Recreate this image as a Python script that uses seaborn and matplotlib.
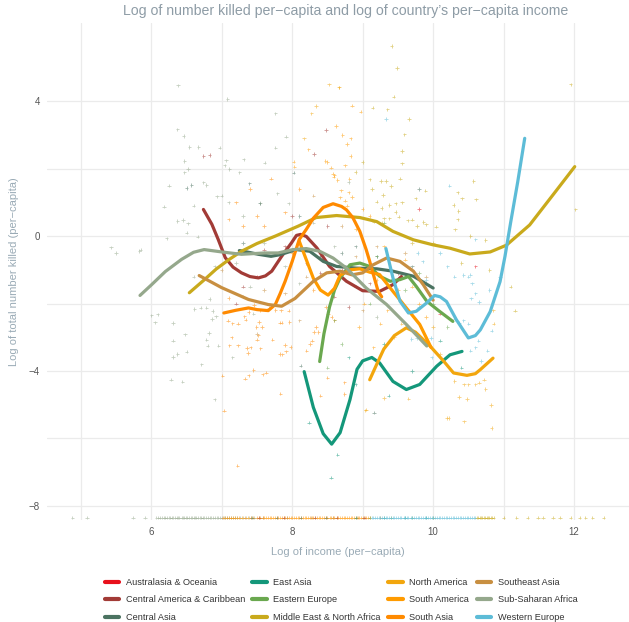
import matplotlib
matplotlib.use("Agg")
import matplotlib.pyplot as plt
from matplotlib.lines import Line2D
import seaborn as sns
import pandas as pd

# ---------------- data ----------------
REGIONS = ["Australasia & Oceania", "Central America & Caribbean", "Central Asia",
           "East Asia", "Eastern Europe", "Middle East & North Africa",
           "North America", "South America", "South Asia",
           "Southeast Asia", "Sub-Saharan Africa", "Western Europe"]
COLORS = ["#e8101b", "#a23b36", "#4b7361", "#14977a", "#6aa84f", "#c9aa1c",
          "#f2a60d", "#ff9b00", "#ff8a00", "#c88f41", "#95a88c", "#5dbcd7"]

# smoothed trend curves (log income, log killed per-capita)
CAC_X = [6.74, 6.86, 6.95, 7.05, 7.16, 7.28, 7.40, 7.52, 7.62, 7.71, 7.85, 7.99, 8.06, 8.12, 8.20, 8.35, 8.53, 8.77, 9.00, 9.24, 9.43, 9.55]
CAC_Y = [0.79, 0.35, -0.10, -0.64, -0.92, -1.09, -1.20, -1.24, -1.18, -1.04, -0.60, -0.20, 0.02, 0.05, -0.01, -0.35, -0.90, -1.34, -1.62, -1.64, -1.44, -1.20]
CA_X = [7.25, 7.31, 7.52, 7.70, 7.83, 8.06, 8.25, 8.44, 8.63, 8.91, 9.20, 9.43, 9.72, 10.00]
CA_Y = [-0.43, -0.45, -0.54, -0.60, -0.55, -0.40, -0.45, -0.75, -0.90, -0.95, -0.97, -1.04, -1.19, -1.54]
EA_X = [8.17, 8.30, 8.44, 8.56, 8.68, 8.82, 8.92, 9.00, 9.13, 9.24, 9.34, 9.43, 9.62, 9.81, 10.05, 10.24, 10.41]
EA_Y = [-4.02, -5.08, -5.86, -6.17, -5.83, -4.85, -3.95, -3.70, -3.60, -3.76, -4.05, -4.31, -4.55, -4.40, -3.86, -3.52, -3.42]
EE_X = [8.39, 8.45, 8.53, 8.60, 8.68, 8.82, 8.96, 9.10, 9.24, 9.39, 9.53, 9.65, 9.76, 9.91, 10.09, 10.28]
EE_Y = [-3.72, -2.90, -2.10, -1.60, -1.24, -0.85, -0.80, -0.90, -1.19, -1.34, -1.29, -1.20, -1.49, -1.93, -2.23, -2.53]
ME_X = [6.54, 6.75, 6.92, 7.10, 7.28, 7.50, 7.76, 8.09, 8.34, 8.63, 8.96, 9.20, 9.43, 9.72, 10.00, 10.24, 10.52, 10.81, 11.04, 11.37, 11.70, 12.01]
ME_Y = [-1.68, -1.30, -0.98, -0.70, -0.45, -0.22, 0.00, 0.30, 0.55, 0.61, 0.55, 0.43, 0.14, -0.11, -0.26, -0.36, -0.53, -0.47, -0.27, 0.33, 1.22, 2.06]
NA_X = [9.10, 9.20, 9.30, 9.45, 9.62, 9.75, 9.96, 10.15, 10.29, 10.48, 10.60, 10.67, 10.85]
NA_Y = [-4.26, -3.80, -3.35, -2.95, -2.72, -2.85, -3.27, -3.71, -4.06, -4.13, -4.08, -3.96, -3.62]
SAM_X = [8.10, 8.20, 8.30, 8.40, 8.51, 8.60, 8.68, 8.82, 8.96, 9.10, 9.24, 9.43, 9.62, 9.81, 9.97]
SAM_Y = [-0.15, -0.70, -1.25, -1.60, -1.75, -1.55, -1.16, -1.00, -0.97, -1.07, -1.14, -1.64, -2.13, -2.62, -3.30]
SAS_X = [7.03, 7.20, 7.38, 7.50, 7.66, 7.76, 7.83, 7.90, 8.00, 8.10, 8.20, 8.30, 8.44, 8.58, 8.70, 8.77, 8.86, 8.96, 9.05, 9.10, 9.16, 9.22, 9.27]
SAS_Y = [-2.28, -2.20, -2.13, -2.18, -2.21, -2.03, -1.70, -1.34, -0.75, -0.10, 0.20, 0.53, 0.85, 0.96, 0.88, 0.78, 0.55, 0.14, -0.40, -0.75, -1.20, -1.64, -1.80]
SEA_X = [6.68, 7.00, 7.38, 7.66, 7.85, 8.04, 8.30, 8.49, 8.68, 8.85, 9.00, 9.15, 9.34, 9.53, 9.72, 9.86, 10.00]
SEA_Y = [-1.17, -1.53, -1.88, -2.03, -2.08, -1.85, -1.34, -1.09, -1.04, -1.15, -1.09, -0.85, -0.65, -0.75, -1.04, -1.44, -1.90]
SSA_X = [5.84, 6.00, 6.20, 6.43, 6.60, 6.75, 7.00, 7.28, 7.61, 7.80, 8.01, 8.20, 8.39, 8.58, 8.77, 9.05, 9.34, 9.62, 9.91]
SSA_Y = [-1.76, -1.45, -1.05, -0.69, -0.48, -0.40, -0.47, -0.54, -0.50, -0.50, -0.40, -0.37, -0.45, -0.65, -0.95, -1.54, -2.03, -2.62, -3.26]
WE_X = [9.33, 9.43, 9.53, 9.65, 9.76, 9.91, 10.02, 10.10, 10.19, 10.33, 10.50, 10.60, 10.67, 10.81, 10.95, 11.02, 11.10, 11.20, 11.30]
WE_Y = [-0.37, -1.24, -1.93, -2.28, -2.23, -1.98, -1.76, -1.80, -1.94, -2.48, -3.02, -2.95, -2.78, -2.24, -1.35, -0.60, 0.40, 1.60, 2.90]

# country-year observations (log income, log killed per-capita)
PTS_SSA = [(6.38,4.47),(7.08,4.07),(6.37,3.17),(6.46,2.97),(6.54,2.64),(6.67,2.64),(6.97,2.62),(6.47,2.23),
           (6.52,1.99),(6.47,1.89),(7.06,2.25),(7.04,2.10),(7.11,1.99),(7.31,2.28),(7.25,1.89),(6.74,1.59),
           (6.78,1.51),(7.61,2.18),(7.76,3.64),(7.76,2.62),(7.91,2.95),(6.18,0.87),(6.22,-0.07),(5.83,-0.44),
           (6.50,0.10),(6.66,-0.02),(6.37,0.45),(6.45,0.48),(6.52,0.38),(7.00,1.20),(6.93,1.18),(7.10,1.00),
           (7.55,0.98),(7.79,1.27),(7.95,0.97),(6.05,-2.56),(6.09,-2.32),(6.31,-2.58),(6.31,-3.10),(6.31,-3.59),
           (6.37,-3.50),(6.48,-2.91),(6.50,-3.43),(6.28,-4.26),(6.44,-4.32),(6.61,-2.16),(6.70,-2.12),(6.78,-2.12),
           (6.87,-2.22),(6.86,-2.46),(6.82,-2.87),(6.78,-3.07),(6.80,-3.25),(6.95,-3.25),(6.71,-3.80),(6.90,-4.84),
           (6.83,-1.87),(6.92,-2.38),(7.20,-0.80),(7.40,-1.50),(7.60,-0.20),(7.90,-0.90),(8.10,-1.40),(8.30,0.40),
           (8.60,-0.30),(5.43,-0.33),(5.50,-0.50),(6.00,-2.35),(5.85,-0.40),(6.60,-1.20),(6.90,-0.90),(7.30,0.60),
           (6.25,1.50),(6.60,0.90),(7.45,-2.30),(7.15,-3.60),(8.80,1.60),(9.20,-2.40)]
PTS_CA = [(6.57,1.51),(6.50,1.43),(7.39,1.56),(8.02,1.88),(7.54,0.97),(8.10,0.60),(7.30,-0.20),(8.40,-0.60),
          (8.70,-0.50),(9.20,-0.60),(9.70,-0.90),(8.12,-3.84),(9.16,-5.24),(9.80,1.40),(8.90,-0.30)]
PTS_CAC = [(6.74,2.38),(6.83,2.41),(8.48,3.15),(8.31,2.43),(7.30,-1.50),(7.60,-0.40),(7.90,-0.30),(8.20,-0.80),
           (8.40,-1.10),(8.60,-1.80),(8.80,-2.10),(9.10,-1.40),(9.50,-1.10),(8.00,0.60),(8.50,0.30),(7.20,-2.00)]
PTS_ME = [(9.41,5.64),(9.49,4.98),(9.44,4.14),(11.95,4.50),(12.02,0.79),(11.16,-2.21),(9.14,3.81),(9.35,3.76),
          (9.66,3.47),(9.59,3.02),(9.56,2.52),(9.56,2.16),(9.10,1.68),(9.13,1.40),(9.26,1.63),(9.33,1.63),
          (9.40,1.49),(9.53,1.70),(9.29,1.22),(9.20,1.02),(9.27,0.83),(9.38,0.92),(9.47,0.97),(9.56,1.00),
          (9.47,0.72),(9.51,0.58),(9.38,0.53),(9.30,0.53),(9.16,0.43),(9.28,0.40),(9.75,1.12),(9.89,1.35),
          (9.70,0.49),(9.64,0.47),(9.77,0.30),(9.86,0.42),(9.90,0.35),(10.04,0.28),(10.35,1.30),(10.41,1.12),
          (10.29,0.92),(10.36,0.74),(10.35,0.50),(10.31,0.20),(10.57,1.63),(10.61,1.09),(10.53,0.00),(10.74,-0.12),
          (10.00,-0.20),(9.70,-0.20),(10.80,-1.00),(11.10,-1.50),(10.40,-0.80),(9.00,2.20),(8.90,1.90)]
PTS_NA = [(8.67,4.41),(8.52,4.50),(8.66,4.41),(8.17,2.90),(8.27,3.64),(8.34,3.86),(9.30,-4.80),(9.65,-4.82),
          (10.19,-5.39),(10.22,-5.39),(10.44,-5.49),(10.83,-5.69),(10.82,-5.01),(10.37,-4.77),(10.48,-4.83),
          (10.30,-4.30),(10.44,-4.40),(10.50,-4.40),(10.60,-4.40),(10.65,-4.35),(10.72,-4.26),(10.74,-4.53),
          (9.90,-3.10),(10.00,-2.70),(9.55,-2.60),(10.10,-3.50),(10.85,-2.20),(10.86,-2.60),(9.04,-5.17),(9.05,-5.15)]
PTS_SAM = [(8.02,2.21),(8.03,2.06),(8.23,2.57),(8.62,3.27),(8.85,3.87),(8.97,3.69),(8.71,3.00),(8.78,2.73),
           (8.83,2.90),(8.83,2.37),(8.75,2.10),(8.81,1.70),(8.80,1.30),(8.68,1.15),(8.75,1.05),(8.85,1.16),
           (8.58,1.85),(8.60,1.80),(8.47,2.23),(8.50,2.20),(8.55,2.03),(8.59,1.76),(8.64,1.66),(8.69,1.36),
           (8.78,0.90),(9.00,0.80),(9.10,0.60),(8.90,0.20),(9.30,-0.30),(9.60,-0.70),(9.20,-1.30),(9.50,-1.60),
           (9.80,-2.00),(9.35,-2.20),(9.70,-1.50),(9.90,-2.40),(9.45,-3.00),(9.25,-2.60),(9.02,-2.00),(8.95,-2.70),
           (9.15,-3.30)]
PTS_SAS = [(7.01,-4.14),(7.03,-5.18),(7.22,-6.81),(7.83,-4.67),(7.09,-2.51),(7.15,-2.59),(7.11,-3.24),(7.10,-1.84),
           (7.23,-2.60),(7.23,-3.24),(7.14,-3.00),(7.37,-3.47),(7.36,-3.32),(7.41,-3.30),(7.50,-3.07),(7.55,-3.33),
           (7.38,-4.13),(7.45,-3.97),(7.33,-4.23),(7.58,-4.10),(7.63,-4.05),(7.82,-3.50),(7.86,-3.51),(7.91,-3.42),
           (7.90,-3.23),(7.98,-3.29),(7.72,-3.07),(7.82,-2.57),(7.85,-2.57),(7.96,-2.55),(7.95,-2.21),(7.84,-2.20),
           (7.76,-2.19),(7.67,-2.12),(7.53,-2.55),(7.57,-2.70),(7.49,-2.70),(7.52,-2.94),(7.34,-2.48),(7.32,-2.38),
           (7.38,-2.25),(7.46,-2.04),(7.55,-2.20),(8.20,-3.40),(8.25,-3.20),(8.28,-3.10),(8.37,-2.85),(8.31,-2.85),
           (8.34,-2.70),(8.48,-2.10),(8.51,-2.30),(8.56,-2.40),(8.60,-2.50),(8.40,-4.73),(8.50,-4.20),(8.74,-4.34),
           (8.74,-4.68),(7.20,1.00),(7.10,0.50),(7.30,0.30),(7.50,0.60),(7.60,0.30),(7.90,0.70),(8.00,-0.50),
           (8.30,-1.60),(7.40,1.40),(7.70,1.70),(8.10,1.40)]
PTS_SEA = [(7.00,-1.00),(7.30,-1.80),(7.60,-1.60),(7.90,-1.70),(8.20,-1.20),(8.50,-0.80),(8.90,-0.60),(9.20,-0.30),
           (9.60,-0.50),(9.90,-1.20),(8.30,1.20),(8.70,0.30),(9.00,-2.20),(7.50,-2.90),(8.10,-2.50)]
PTS_EE = [(8.60,-2.50),(8.70,-3.20),(8.90,-1.50),(9.20,-0.60),(9.40,-1.00),(9.60,-1.60),(9.80,-1.10),(10.00,-2.00),
          (10.20,-2.70),(8.50,-3.90),(9.10,-2.00),(9.30,0.40)]
PTS_EA = [(8.24,-5.53),(8.64,-6.48),(8.55,-7.16),(9.37,-4.73),(8.80,-3.60),(9.30,-3.20),(9.70,-4.00),(10.10,-3.10),
          (10.40,-3.90),(8.90,-4.40)]
PTS_WE = [(9.33,3.47),(10.23,1.50),(9.85,-0.75),(9.78,-0.50),(10.60,-0.10),(10.10,-0.50),(9.90,-1.30),(10.50,-1.20),
          (10.43,-1.15),(10.53,-1.14),(10.55,-1.40),(10.60,-1.70),(10.65,-1.95),(10.54,-1.85),(10.43,-2.50),(10.50,-2.60),
          (10.64,-3.10),(10.83,-2.80),(10.31,-2.47),(10.37,-2.57),(9.69,-3.05),(9.77,-3.02),(9.84,-3.05),(9.90,-3.05),
          (9.97,-3.02),(9.98,-3.60),(10.53,-3.40),(10.60,-3.30),(10.77,-3.40),(10.68,-3.70),(9.80,-2.10),(9.90,-1.90),
          (10.30,-1.20),(10.80,-1.60),(10.95,-1.20),(10.20,-0.90)]
PTS_AO = [(9.80,0.80),(10.60,-0.90),(8.70,-1.00),(10.10,-2.30),(7.50,-1.20)]

# observations with no deaths, shown at the floor value
FLOOR_Y = -8.35
FLOOR_SSA = [4.88,5.09,5.74,5.91,6.07,6.10,6.12,6.15,6.18,6.20,6.22,6.25,6.27,6.29,6.31,6.34,6.36,6.38,6.40,6.43,
             6.45,6.47,6.49,6.51,6.53,6.56,6.58,6.60,6.62,6.64,6.66,6.69,6.71,6.73,6.75,6.78,6.80,6.83,6.85,6.88,
             6.90,6.93,6.95,6.98,7.00,7.03,7.05,7.08,7.10,7.13,7.16,7.19,7.22,7.26,7.30,7.34,7.38,7.42,7.46]
FLOOR_ORANGE = [7.02,7.05,7.08,7.11,7.13,7.16,7.19,7.22,7.25,7.29,7.33,7.37,7.41,7.45,7.50,7.53,7.55,7.58,7.60,
                7.63,7.65,7.68,7.70,7.73,7.75,7.78,7.80,7.83,7.85,7.88,7.90,7.93,7.95,7.98,8.00,8.03,8.05,8.08,
                8.10,8.13,8.15,8.18,8.20,8.23,8.25,8.28,8.30,8.33,8.35,8.38,8.40,8.43,8.45,8.48,8.50,8.53,8.55,
                8.58,8.60,8.63,8.65,8.68,8.70,8.73,8.75,8.78,8.80,8.83,8.85,8.88,8.90,8.93,8.95,8.98,9.00,9.03,
                9.05,9.08,9.10]
FLOOR_CAC = [7.53,7.88,8.32,8.63,9.02]
FLOOR_CA = [7.43,7.78,8.12,8.48]
FLOOR_SEA = [7.58,7.92,8.27,8.58,8.92,9.25]
FLOOR_EA = [8.90,9.30,9.60,9.90]
FLOOR_EE = [9.10,9.40,9.70,10.00]
FLOOR_WE = [9.13,9.15,9.18,9.20,9.23,9.25,9.28,9.30,9.33,9.35,9.38,9.40,9.43,9.45,9.48,9.50,9.53,9.55,9.58,
            9.60,9.63,9.65,9.68,9.70,9.73,9.75,9.78,9.80,9.83,9.85,9.88,9.90,9.93,9.95,9.98,10.00,10.03,10.05,
            10.08,10.10,10.13,10.15,10.18,10.20,10.23,10.25,10.28,10.30,10.33,10.35,10.38,10.40,10.43,10.45,
            10.48,10.50,10.53,10.55,10.58,10.60]
FLOOR_ME = [10.62,10.64,10.66,10.68,10.70,10.72,10.74,10.76,10.78,10.80,10.82,10.84,10.86,11.00,11.18,11.34,
            11.49,11.56,11.70,11.80,11.95,12.08,12.16,12.26,12.42]

X_TICKS = [6, 8, 10, 12]
Y_TICKS = [4, 0, -4, -8]
TITLE = "Log of number killed per\u2212capita and log of country\u2019s per\u2212capita income"
XLABEL = "Log of income (per\u2212capita)"
YLABEL = "Log of total number killed (per\u2212capita)"

# ---------------- build tables ----------------
curve_sets = [("Central America & Caribbean", CAC_X, CAC_Y), ("Central Asia", CA_X, CA_Y),
              ("East Asia", EA_X, EA_Y), ("Eastern Europe", EE_X, EE_Y),
              ("Middle East & North Africa", ME_X, ME_Y), ("North America", NA_X, NA_Y),
              ("South America", SAM_X, SAM_Y), ("South Asia", SAS_X, SAS_Y),
              ("Southeast Asia", SEA_X, SEA_Y), ("Sub-Saharan Africa", SSA_X, SSA_Y),
              ("Western Europe", WE_X, WE_Y)]
rows = []
for reg, xs, ys in curve_sets:
    for i, (a, b) in enumerate(zip(xs, ys)):
        rows.append((reg, i, a, b))
curves = pd.DataFrame(rows, columns=["region", "order", "income", "killed"])

pt_sets = [("Sub-Saharan Africa", PTS_SSA), ("Central Asia", PTS_CA), ("Central America & Caribbean", PTS_CAC),
           ("Middle East & North Africa", PTS_ME), ("North America", PTS_NA), ("South America", PTS_SAM),
           ("South Asia", PTS_SAS), ("Southeast Asia", PTS_SEA), ("Eastern Europe", PTS_EE),
           ("East Asia", PTS_EA), ("Western Europe", PTS_WE), ("Australasia & Oceania", PTS_AO)]
prow = []
for reg, pts in pt_sets:
    for a, b in pts:
        prow.append((reg, a, b))
floor_sets = [("Sub-Saharan Africa", FLOOR_SSA), ("South Asia", FLOOR_ORANGE[0::2]),
              ("South America", FLOOR_ORANGE[1::2]), ("Central America & Caribbean", FLOOR_CAC),
              ("Central Asia", FLOOR_CA), ("Southeast Asia", FLOOR_SEA), ("East Asia", FLOOR_EA),
              ("Eastern Europe", FLOOR_EE), ("Western Europe", FLOOR_WE),
              ("Middle East & North Africa", FLOOR_ME)]
for reg, xs in floor_sets:
    for a in xs:
        prow.append((reg, a, FLOOR_Y))
points = pd.DataFrame(prow, columns=["region", "income", "killed"])

palette = dict(zip(REGIONS, COLORS))

# ---------------- plot ----------------
sns.set_theme(style="whitegrid")
plt.rcParams["font.family"] = ["Liberation Sans", "DejaVu Sans"]

fig = plt.figure(figsize=(6.29, 6.22), dpi=100)
ax = fig.add_axes([47/629, 1 - 520/622, 1 - 47/629, (520 - 23)/622])

sns.scatterplot(data=points, x="income", y="killed", hue="region", palette=palette,
                marker="+", s=6, linewidth=0.6, alpha=0.55, legend=False, ax=ax, zorder=2)
sns.lineplot(data=curves, x="income", y="killed", hue="region", units="region",
             estimator=None, sort=False, palette=palette, linewidth=2.3, legend=False, ax=ax, zorder=3)

ax.set_xlim(4.52, 12.78)
ax.set_ylim(-8.42, 6.32)
ax.set_xticks(X_TICKS)
ax.set_yticks(Y_TICKS)
ax.set_xticks([5, 7, 9, 11], minor=True)
ax.set_yticks([2, -2, -6], minor=True)
ax.grid(True, which="both", color="#ebebeb", linewidth=0.9)
for s in ax.spines.values():
    s.set_visible(False)
ax.tick_params(axis="both", which="both", length=0, labelsize=7, labelcolor="#555555")
ax.tick_params(axis="x", pad=5)
ax.tick_params(axis="y", pad=5)
ax.set_facecolor("white")

ax.set_xlabel(XLABEL, fontsize=8, color="#9aabb6", labelpad=7)
ax.set_ylabel(YLABEL, fontsize=8, color="#9aabb6", labelpad=7)
fig.text(0.55, 1 - 11/622, TITLE, ha="center", va="center", fontsize=10.2, color="#8e9ca6")

handles = [Line2D([0], [0], color=c, lw=3) for c in COLORS]
fig.legend(handles, REGIONS, loc="center", bbox_to_anchor=(341/629, 1 - 600/622), ncol=4,
           frameon=False, fontsize=6.6, handlelength=1.6, handletextpad=0.7,
           columnspacing=0.8, labelspacing=0.95, labelcolor="#333333")

fig.savefig("out.png", dpi=100, facecolor="white")
